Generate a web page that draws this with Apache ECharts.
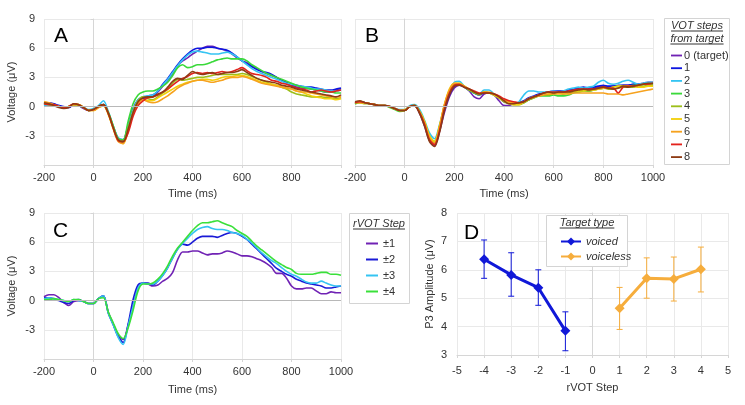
<!DOCTYPE html>
<html><head><meta charset="utf-8">
<script src="https://cdn.jsdelivr.net/npm/echarts@6/dist/echarts.min.js"></script>
<style>html,body{margin:0;padding:0;background:#fff}#c{width:745px;height:405px}</style>
</head><body><div id="c"></div>
<script>
// ---------- DATA ----------
const timeMs = [-200,-180,-160,-140,-120,-100,-80,-60,-40,-20,0,20,40,60,80,100,120,140,160,180,
200,220,240,260,280,300,320,340,360,380,400,420,440,460,480,500,520,540,560,580,
600,620,640,660,680,700,720,740,760,780,800,820,840,860,880,900,920,940,960,980,1000];

const votNames = ['0 (target)','1','2','3','4','5','6','7','8'];
const rvotNames = ['\u00b11','\u00b12','\u00b13','\u00b14'];
const timeTicks = [-200,0,200,400,600,800,1000];
const voltTicks = [-3,0,3,6,9];

// Panel A: ERP by VOT step from target
const panelA0 = [0.4,0.3,0.2,0.1,-0.1,-0.1,0.2,0.1,-0.2,-0.4,-0.3,0.0,0.2,-0.7,-2.1,-3.3,-3.5,-2.0,-0.3,0.6,
0.8,1.0,1.1,1.5,2.1,2.7,3.4,4.2,4.7,5.0,5.4,5.7,6.0,6.2,6.2,6.0,5.9,5.7,5.4,5.0,
4.7,4.5,4.2,3.9,3.6,3.4,3.2,3.0,2.7,2.4,2.2,2.0,1.9,1.9,1.8,1.7,1.6,1.5,1.5,1.7,1.8];
const panelA1 = [0.3,0.4,0.3,0.1,0.0,-0.1,0.2,0.1,-0.1,-0.4,-0.3,0.0,0.2,-0.7,-2.1,-3.3,-3.4,-1.9,-0.2,0.7,
0.9,1.1,1.2,1.6,2.3,2.9,3.6,4.3,4.9,5.4,5.8,6.0,6.0,6.1,6.1,6.0,5.9,5.8,5.5,5.1,
4.7,4.4,4.1,3.8,3.6,3.5,3.3,3.0,2.7,2.5,2.3,2.2,2.1,2.0,2.0,1.9,1.8,1.7,1.7,1.8,1.9];
const panelA2 = [0.1,0.2,0.1,0.0,-0.1,0.0,0.2,0.2,-0.1,-0.3,-0.2,0.1,0.6,-0.5,-2.0,-3.2,-3.4,-1.9,-0.3,0.7,
1.0,1.1,1.2,1.6,2.2,2.8,3.5,4.2,4.8,5.3,5.6,5.7,5.6,5.5,5.4,5.4,5.5,5.6,5.4,5.1,
4.7,4.3,3.9,3.6,3.4,3.2,3.0,2.8,2.6,2.4,2.3,2.2,2.1,2.0,1.9,1.8,1.8,1.7,1.6,1.6,1.7];
const panelA3 = [0.3,0.2,0.1,0.0,-0.1,0.0,0.2,0.1,-0.1,-0.4,-0.3,0.0,0.2,-0.6,-2.0,-3.3,-3.4,-1.5,0.3,1.2,
1.5,1.6,1.6,1.8,2.1,2.5,3.2,4.0,4.3,4.0,4.1,4.3,4.3,4.4,4.6,4.8,4.9,5.0,4.9,4.9,
4.9,4.7,4.3,4.0,3.7,3.4,3.2,3.0,2.8,2.6,2.4,2.2,2.0,1.9,1.8,1.7,1.6,1.5,1.5,1.4,1.4];
const panelA4 = [0.4,0.3,0.2,0.0,-0.1,0.0,0.2,0.2,-0.1,-0.4,-0.3,0.0,0.2,-0.7,-2.1,-3.4,-3.6,-2.2,-0.5,0.6,
1.0,0.8,0.7,1.0,1.4,1.8,2.4,2.8,2.7,2.8,2.9,3.0,3.0,3.1,3.2,3.3,3.3,3.3,3.3,3.3,
3.4,3.3,3.1,2.9,2.7,2.5,2.3,2.2,2.0,1.8,1.5,1.3,1.2,1.1,1.0,1.0,1.0,0.9,0.9,0.8,0.9];
const panelA5 = [0.5,0.3,0.1,0.0,-0.1,0.0,0.2,0.2,-0.1,-0.4,-0.4,-0.1,0.1,-0.8,-2.3,-3.5,-3.8,-2.4,-0.7,0.4,
0.7,0.6,0.6,0.9,1.2,1.5,1.8,2.1,2.3,2.5,2.6,2.7,2.8,2.8,2.7,2.8,3.0,3.1,3.1,3.2,
3.2,3.1,2.9,2.7,2.5,2.4,2.3,2.2,2.0,1.9,1.8,1.6,1.5,1.3,1.1,1.0,0.9,0.8,0.8,0.7,0.8];
const panelA6 = [0.5,0.4,0.2,0.0,-0.1,0.0,0.2,0.2,-0.1,-0.4,-0.4,-0.1,0.1,-0.8,-2.3,-3.6,-3.8,-2.5,-0.8,0.3,
0.7,0.5,0.4,0.5,0.8,1.1,1.5,1.9,2.2,2.4,2.6,2.7,2.7,2.6,2.5,2.6,2.7,2.9,3.0,3.0,
3.1,3.0,2.8,2.6,2.4,2.3,2.2,2.1,2.0,1.9,1.8,1.6,1.5,1.5,1.4,1.3,1.2,1.1,1.0,1.0,1.0];
const panelA7 = [0.3,0.2,0.2,0.0,-0.1,0.0,0.3,0.2,-0.1,-0.4,-0.3,0.0,0.2,-0.7,-2.2,-3.5,-3.6,-2.7,-1.0,0.1,
0.6,0.9,1.0,1.2,1.5,1.8,2.2,2.6,2.9,3.1,3.4,3.5,3.4,3.5,3.4,3.5,3.6,3.5,3.6,3.8,
4.0,3.7,3.4,3.3,3.2,3.0,2.7,2.6,2.4,2.3,2.1,1.9,1.8,1.7,1.5,1.6,1.7,1.6,1.5,1.6,1.7];
const panelA8 = [0.4,0.3,0.1,-0.1,-0.2,-0.1,0.3,0.2,-0.1,-0.4,-0.3,0.0,0.2,-0.7,-2.2,-3.4,-3.6,-2.3,-0.6,0.5,
0.9,1.0,1.0,1.3,1.5,2.0,2.6,2.9,2.8,3.2,3.6,3.4,3.3,3.4,3.5,3.3,3.4,3.5,3.5,3.6,
3.8,3.5,3.2,2.9,2.7,2.6,2.5,2.4,2.2,2.1,2.0,1.8,1.7,1.6,1.5,1.4,1.3,1.2,1.1,1.0,1.2];

// Panel B
const panelB0 = [0.5,0.5,0.4,0.3,0.2,0.1,0.1,0.0,-0.2,-0.4,-0.4,0.0,0.1,-0.7,-2.0,-3.5,-4.0,-2.6,-0.6,1.0,
1.9,2.2,2.0,1.6,1.0,0.8,1.3,1.4,1.2,0.6,0.1,0.1,0.3,0.3,0.5,0.7,1.0,1.2,1.3,1.5,
1.5,1.5,1.5,1.6,1.7,1.8,1.8,1.9,1.9,2.0,2.1,2.0,2.1,2.1,2.2,2.2,2.3,2.3,2.4,2.5,2.5];
const panelB1 = [0.4,0.5,0.4,0.3,0.2,0.1,0.1,0.0,-0.2,-0.4,-0.4,0.0,0.1,-0.6,-1.8,-3.3,-3.8,-2.4,-0.3,1.2,
2.1,2.3,2.0,1.7,1.4,1.2,1.4,1.4,1.2,0.9,0.5,0.4,0.3,0.4,0.6,0.9,1.1,1.3,1.4,1.5,
1.6,1.6,1.6,1.7,1.8,1.9,2.0,1.9,2.0,2.1,2.2,2.1,2.1,2.2,2.2,2.2,2.3,2.3,2.3,2.4,2.4];
const panelB2 = [0.3,0.4,0.4,0.3,0.2,0.1,0.1,0.0,-0.2,-0.3,-0.3,0.1,0.2,-0.3,-1.4,-2.7,-3.3,-1.9,0.1,1.6,
2.5,2.6,2.1,1.7,1.4,1.3,1.7,1.7,1.3,1.0,0.6,0.4,0.3,0.5,1.2,1.6,1.6,1.5,1.5,1.5,
1.6,1.5,1.6,1.8,1.9,2.0,1.9,2.0,2.1,2.5,2.7,2.4,2.3,2.4,2.6,2.7,2.5,2.3,2.4,2.5,2.5];
const panelB3 = [0.3,0.5,0.4,0.3,0.2,0.1,0.1,-0.1,-0.3,-0.5,-0.4,0.0,0.1,-0.5,-1.6,-3.1,-3.6,-2.1,0.0,1.5,
2.3,2.3,2.0,1.7,1.4,1.2,1.5,1.4,1.2,0.9,0.6,0.4,0.3,0.3,0.4,0.7,0.9,1.1,1.1,1.1,
1.2,1.1,1.1,1.2,1.4,1.5,1.6,1.6,1.7,1.8,1.9,1.9,2.0,2.1,2.1,2.1,2.2,2.2,2.3,2.3,2.3];
const panelB4 = [0.3,0.4,0.3,0.3,0.2,0.1,0.1,0.0,-0.2,-0.4,-0.4,0.0,0.1,-0.5,-1.6,-3.0,-3.6,-2.1,0.1,1.6,
2.3,2.4,2.1,1.7,1.5,1.3,1.5,1.4,1.2,0.9,0.5,0.3,0.2,0.2,0.4,0.7,0.9,1.1,1.2,1.2,
1.3,1.4,1.3,1.4,1.5,1.6,1.7,1.6,1.7,1.8,1.9,1.8,1.8,1.9,2.0,2.0,2.0,2.1,2.1,2.2,2.2];
const panelB5 = [0.5,0.4,0.4,0.3,0.2,0.1,0.1,0.0,-0.2,-0.4,-0.3,0.0,0.1,-0.5,-1.5,-3.0,-3.6,-2.0,0.2,1.8,
2.4,2.4,2.1,1.8,1.5,1.3,1.5,1.4,1.2,0.9,0.6,0.4,0.2,0.2,0.5,0.8,1.0,1.2,1.3,1.3,
1.4,1.4,1.4,1.5,1.6,1.6,1.6,1.7,1.7,1.8,1.9,1.9,2.0,2.1,2.1,2.1,2.1,2.0,2.0,2.1,2.1];
const panelB6 = [0.5,0.4,0.4,0.3,0.2,0.1,0.1,0.0,-0.2,-0.4,-0.4,0.0,0.1,-0.6,-1.7,-3.2,-3.8,-2.1,0.2,1.7,
2.4,2.3,2.1,1.8,1.5,1.3,1.5,1.5,1.3,1.0,0.7,0.5,0.4,0.4,0.5,0.8,1.0,1.1,1.2,1.3,
1.3,1.3,1.3,1.3,1.4,1.4,1.4,1.4,1.4,1.4,1.4,1.3,1.3,1.3,1.2,1.3,1.4,1.5,1.6,1.7,1.8];
const panelB7 = [0.4,0.5,0.4,0.3,0.2,0.1,0.1,0.0,-0.2,-0.4,-0.4,0.0,0.1,-0.6,-1.8,-3.4,-3.9,-2.5,-0.2,1.4,
2.2,2.3,2.0,1.8,1.6,1.4,1.4,1.4,1.3,1.1,0.8,0.6,0.5,0.4,0.5,0.8,1.0,1.2,1.4,1.5,
1.5,1.5,1.5,1.6,1.7,1.8,1.8,1.8,1.8,1.9,2.0,1.9,1.9,1.4,2.0,2.1,2.1,2.2,2.3,2.3,2.4];
const panelB8 = [0.5,0.6,0.4,0.3,0.2,0.1,0.1,0.0,-0.2,-0.4,-0.4,0.0,0.1,-0.7,-2.0,-3.6,-4.1,-2.7,-0.4,1.2,
2.1,2.2,2.0,1.8,1.5,1.3,1.4,1.4,1.3,1.0,0.6,0.3,0.3,0.4,0.5,0.8,1.0,1.2,1.4,1.5,
1.4,1.5,1.5,1.5,1.6,1.7,1.8,1.7,1.8,1.9,2.0,1.9,1.8,1.9,2.1,2.0,2.1,2.2,2.3,2.4,2.4];

// Panel C: ERP by rVOT step
const panelC1 = [0.4,0.6,0.6,0.3,-0.2,-0.5,-0.1,0.0,-0.1,-0.3,-0.3,0.2,0.5,-1.2,-2.4,-3.6,-4.0,-2.5,-0.5,1.3,
1.8,1.7,1.5,1.6,2.0,2.3,2.9,4.2,5.0,5.0,5.1,5.1,4.9,4.7,4.8,4.8,4.9,5.1,5.0,4.8,
4.6,4.6,4.5,4.3,4.1,3.8,3.4,2.8,2.8,2.3,1.5,1.2,1.2,1.3,1.3,1.0,0.7,0.7,0.9,0.8,0.8];
const panelC2 = [0.3,0.3,0.2,0.0,-0.2,-0.3,0.0,0.1,-0.1,-0.3,-0.3,0.2,0.5,-1.3,-2.5,-3.7,-4.3,-2.4,0.1,1.6,
1.8,1.8,1.6,2.0,2.6,3.4,4.4,5.3,5.8,5.7,6.0,6.4,6.6,6.6,6.6,6.5,6.7,6.9,7.0,6.9,
6.6,6.3,5.8,5.3,4.8,4.3,3.8,3.3,3.0,2.7,2.5,2.2,2.0,1.8,1.7,1.6,1.5,1.3,1.3,1.4,1.5];
const panelC3 = [0.2,0.3,0.2,0.1,0.0,-0.1,0.1,0.0,-0.1,-0.3,-0.3,0.2,0.5,-1.3,-2.5,-3.8,-4.5,-2.6,-0.6,1.3,
1.8,1.7,1.7,2.0,2.6,3.4,4.4,5.3,5.9,6.4,6.9,7.3,7.5,7.6,7.4,7.3,7.3,7.2,7.0,6.9,
6.7,6.3,5.9,5.4,4.9,4.5,4.1,3.8,3.4,3.0,2.7,2.5,2.2,1.9,1.8,1.8,2.0,1.8,1.6,1.5,1.5];
const panelC4 = [0.1,0.1,0.2,0.1,0.0,-0.1,0.1,0.1,-0.1,-0.3,-0.3,0.2,0.3,-1.2,-2.3,-3.4,-3.9,-2.8,-1.0,1.0,
1.7,1.7,1.8,2.2,2.8,3.6,4.6,5.4,6.0,6.6,7.2,7.7,8.0,8.0,8.1,8.2,8.0,7.8,7.6,7.2,
6.9,6.6,6.1,5.6,5.2,4.8,4.4,4.0,3.7,3.4,3.2,2.8,2.7,2.7,2.7,2.8,2.9,2.9,2.7,2.7,2.6];

// Panel D: P3 amplitude by rVOT step
const stepVoiced = [-4,-3,-2,-1];
const p3Voiced = [6.37,5.82,5.37,3.85];
const p3VoicedLow = [5.70,5.07,4.75,3.15];
const p3VoicedHigh = [7.05,6.60,6.00,4.52];
const stepVoiceless = [1,2,3,4];
const p3Voiceless = [4.65,5.70,5.68,6.02];
const p3VoicelessLow = [3.90,5.00,4.90,5.22];
const p3VoicelessHigh = [5.38,6.42,6.45,6.80];

// ---------- STYLE ----------
const FONT = 'Liberation Sans, Arial, sans-serif';
const votColors = ['#7022b4','#0d16e0','#35c4f2','#3ad93a','#9cbf1a','#f2cf0c','#f6a21e','#e3221c','#8e3b14'];
const rvotColors = ['#7022b4','#1a1ad6','#35c4f2','#3ae03a'];
const voicedColor = '#1018d8';
const voicelessColor = '#f6ad3c';
const gridCol = '#e9e9e9', axisCol = '#d6d6d6', txt = '#333';

const panelA = [panelA0,panelA1,panelA2,panelA3,panelA4,panelA5,panelA6,panelA7,panelA8];
const panelB = [panelB0,panelB1,panelB2,panelB3,panelB4,panelB5,panelB6,panelB7,panelB8];
const panelC = [panelC1,panelC2,panelC3,panelC4];
const pairs = arr => timeMs.map((t,i)=>[t,arr[i]]);

function timeX(gi, opts){
  return Object.assign({
    type:'value', gridIndex:gi, min:-200, max:1000, interval:200,
    axisLine:{show:true,onZero:false,lineStyle:{color:axisCol}},
    axisTick:{show:true,length:3,lineStyle:{color:axisCol}},
    splitLine:{show:true,lineStyle:{color:gridCol}},
    axisLabel:{color:txt,fontSize:11,fontFamily:FONT,margin:7,formatter:v=>String(v)},
    name:'Time (ms)', nameLocation:'middle', nameGap:23,
    nameTextStyle:{color:txt,fontSize:11,fontFamily:FONT}
  }, opts||{});
}
function voltY(gi, showLab){
  return {
    type:'value', gridIndex:gi, min:-6, max:9, interval:3,
    axisLine:{show:true,lineStyle:{color:axisCol}},
    axisTick:{show:showLab,length:3,lineStyle:{color:axisCol}},
    splitLine:{show:true,lineStyle:{color:gridCol}},
    axisLabel:{show:showLab,color:txt,fontSize:11,fontFamily:FONT,margin:9,
      formatter:v=> voltTicks.indexOf(v)>=0 ? String(v) : ''},
    name: showLab ? 'Voltage (\u03bcV)' : '', nameLocation:'middle', nameGap:27, nameRotate:90,
    nameTextStyle:{color:txt,fontSize:11,fontFamily:FONT}
  };
}
const zeroLine = {silent:true,symbol:'none',label:{show:false},lineStyle:{color:'#b8b8b8',type:'solid',width:1},data:[{yAxis:0}]};

const series = [];
panelA.forEach((arr,i)=>series.push({name:votNames[i],type:'line',xAxisIndex:0,yAxisIndex:0,data:pairs(arr),
  showSymbol:false,symbol:'none',smooth:0.3,lineStyle:{width:1.6,color:votColors[i]},itemStyle:{color:votColors[i]},
  markLine: i===0 ? zeroLine : undefined}));
panelB.forEach((arr,i)=>series.push({name:votNames[i],type:'line',xAxisIndex:1,yAxisIndex:1,data:pairs(arr),
  showSymbol:false,symbol:'none',smooth:0.3,lineStyle:{width:1.6,color:votColors[i]},itemStyle:{color:votColors[i]},
  markLine: i===0 ? zeroLine : undefined}));
panelC.forEach((arr,i)=>series.push({name:rvotNames[i],type:'line',xAxisIndex:2,yAxisIndex:2,data:pairs(arr),
  showSymbol:false,symbol:'none',smooth:0.3,lineStyle:{width:1.6,color:rvotColors[i]},itemStyle:{color:rvotColors[i]},
  markLine: i===0 ? zeroLine : undefined}));

function errSeries(name, xs, lo, hi, color){
  return {name:name,type:'custom',xAxisIndex:3,yAxisIndex:3,z:3,
    encode:{x:0,y:[1,2]},
    data: xs.map((x,i)=>[x,lo[i],hi[i]]),
    renderItem:(params,api)=>{
      const x=api.value(0), p1=api.coord([x,api.value(1)]), p2=api.coord([x,api.value(2)]);
      const w=3, st={stroke:color,lineWidth:1};
      return {type:'group',children:[
        {type:'line',shape:{x1:p1[0],y1:p1[1],x2:p2[0],y2:p2[1]},style:st},
        {type:'line',shape:{x1:p1[0]-w,y1:p1[1],x2:p1[0]+w,y2:p1[1]},style:st},
        {type:'line',shape:{x1:p2[0]-w,y1:p2[1],x2:p2[0]+w,y2:p2[1]},style:st}]};
    }};
}
series.push(errSeries('voicedErr',stepVoiced,p3VoicedLow,p3VoicedHigh,voicedColor));
series.push(errSeries('voicelessErr',stepVoiceless,p3VoicelessLow,p3VoicelessHigh,voicelessColor));
series.push({name:'voiced',type:'line',xAxisIndex:3,yAxisIndex:3,data:stepVoiced.map((x,i)=>[x,p3Voiced[i]]),
  symbol:'diamond',symbolSize:10,lineStyle:{width:3,color:voicedColor},itemStyle:{color:voicedColor},z:4});
series.push({name:'voiceless',type:'line',xAxisIndex:3,yAxisIndex:3,data:stepVoiceless.map((x,i)=>[x,p3Voiceless[i]]),
  symbol:'diamond',symbolSize:10,lineStyle:{width:3,color:voicelessColor},itemStyle:{color:voicelessColor},z:4});

// underline titles measured with canvas
const mctx = document.createElement('canvas').getContext('2d');
function uTitle(str, cx, cy){
  mctx.font = 'italic 11px "Liberation Sans"';
  const w = mctx.measureText(str).width;
  return [
    {type:'text',z:10,style:{text:str,x:cx,y:cy,align:'center',verticalAlign:'middle',fill:txt,
      font:'italic 11px "Liberation Sans", Arial, sans-serif'}},
    {type:'line',z:10,shape:{x1:cx-w/2,y1:cy+5,x2:cx+w/2,y2:cy+5},style:{stroke:txt,lineWidth:1}}
  ];
}
function letter(s,x,y){return {type:'text',z:10,style:{text:s,x:x,y:y,fill:'#000',font:'21px "Liberation Sans", Arial, sans-serif'}};}
function box(x,y,w,h){return {type:'rect',z:5,shape:{x:x+0.5,y:y+0.5,width:w,height:h},style:{fill:'#fff',stroke:'#d4d4d4',lineWidth:1}};}

const graphic = [
  letter('A',54,26), letter('B',365,26), letter('C',53,221), letter('D',464,223),
  box(664,18,65,146), ...uTitle('VOT steps',697,26), ...uTitle('from target',697,39),
  box(349,213,60,90), ...uTitle('rVOT Step',379,224),
  box(546,215,81,51), ...uTitle('Target type',587,223)
];

const lineIcon = 'path://M0,0L12,0L12,2L0,2Z';
const option = {
  animation:false,
  textStyle:{fontFamily:FONT},
  grid:[
    {left:44,top:19,width:297,height:146},
    {left:355,top:19,width:298,height:146},
    {left:44,top:213,width:297,height:146},
    {left:457,top:213,width:271,height:142}
  ],
  xAxis:[
    timeX(0,{axisLabel:{color:txt,fontSize:11,fontFamily:FONT,margin:7,formatter:v=>v===1000?'':String(v)}}),
    timeX(1),
    timeX(2,{nameGap:25}),
    {type:'value',gridIndex:3,min:-5,max:5,interval:1,
      axisLine:{show:true,onZero:false,lineStyle:{color:axisCol}},
      axisTick:{show:true,length:3,lineStyle:{color:axisCol}},
      splitLine:{show:true,lineStyle:{color:gridCol}},
      axisLabel:{color:txt,fontSize:11,fontFamily:FONT,margin:10},
      name:'rVOT Step',nameLocation:'middle',nameGap:27,nameTextStyle:{color:txt,fontSize:11,fontFamily:FONT}}
  ],
  yAxis:[
    voltY(0,true), voltY(1,false), voltY(2,true),
    {type:'value',gridIndex:3,min:3,max:8,interval:1,
      axisLine:{show:true,lineStyle:{color:axisCol}},
      axisTick:{show:true,length:3,lineStyle:{color:axisCol}},
      splitLine:{show:true,lineStyle:{color:gridCol}},
      axisLabel:{color:txt,fontSize:11,fontFamily:FONT,margin:10},
      name:'P3 Amplitude (\u03bcV)',nameLocation:'middle',nameGap:22,nameRotate:90,
      nameTextStyle:{color:txt,fontSize:11,fontFamily:FONT}}
  ],
  legend:[
    {data:votNames,orient:'vertical',left:666,top:45,icon:lineIcon,itemWidth:11,itemHeight:2,itemGap:1.7,z:12,
      textStyle:{color:txt,fontSize:11,fontFamily:FONT,padding:[0,0,0,-3]},selectedMode:false},
    {data:rvotNames,orient:'vertical',left:361,top:233,icon:lineIcon,itemWidth:12,itemHeight:2,itemGap:5,z:12,
      textStyle:{color:txt,fontSize:11,fontFamily:FONT},selectedMode:false},
    {data:['voiced','voiceless'],orient:'vertical',left:555,top:231,itemWidth:20,itemHeight:10,itemGap:4,z:12,
      textStyle:{color:txt,fontSize:11,fontFamily:FONT,fontStyle:'italic'},selectedMode:false}
  ],
  graphic: graphic,
  series: series
};
const chart = echarts.init(document.getElementById('c'),null,{renderer:'canvas'});
chart.setOption(option);
</script>
</body></html>
